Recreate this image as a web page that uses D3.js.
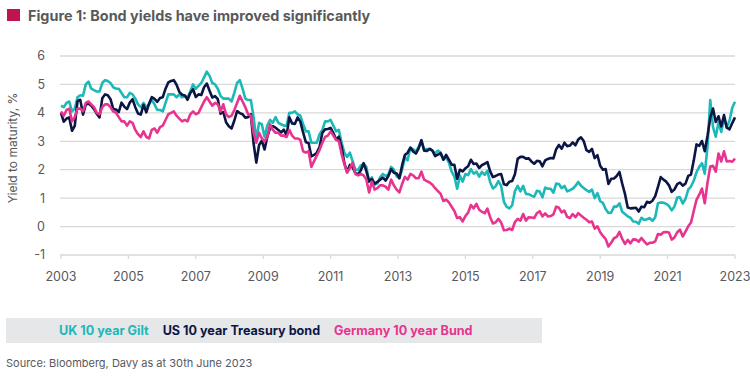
<!DOCTYPE html>
<html><head><meta charset="utf-8">
<script src="https://cdn.jsdelivr.net/npm/d3@7"></script>
<style>
html,body{margin:0;padding:0;background:#fff;}
svg{display:block;font-family:Inter,"Noto Sans",sans-serif;}
</style></head>
<body>
<svg id="chart" width="750" height="376"></svg>
<script>
// Monthly observations, Jan 2003 - Jun 2023
const yearLabels = ["2003","2005","2007","2009","2011","2013","2015","2017","2019","2021","2023"];
const yTicks = [-1,0,1,2,3,4,5,6];
const seriesNames = ["UK 10 year Gilt","US 10 year Treasury bond","Germany 10 year Bund"];

const ukGilt = [
4.25,4.20,4.35,4.40,4.05,4.15,4.55,4.62,4.60,5.00,5.10,4.85,
4.80,4.75,4.75,5.05,5.15,5.12,5.05,4.90,4.85,4.85,4.70,4.55,
4.55,4.70,4.65,4.50,4.30,4.20,4.35,4.20,4.30,4.45,4.30,4.10,
4.10,4.05,4.35,4.65,4.65,4.65,4.55,4.65,4.55,4.60,4.55,4.75,
5.00,4.85,4.95,5.05,5.25,5.45,5.30,5.05,5.00,4.85,4.60,4.50,
4.50,4.50,4.40,4.70,5.05,5.15,4.85,4.50,4.45,4.45,3.85,3.05,
3.65,3.60,3.15,3.55,3.75,3.65,3.85,3.65,3.60,3.55,3.55,4.00,
4.00,4.05,3.95,3.90,3.60,3.35,3.35,2.95,2.95,2.95,3.25,3.40,
3.70,3.70,3.75,3.55,3.35,3.40,2.95,2.60,2.45,2.60,2.30,2.00,
2.00,2.15,2.20,2.10,1.57,1.73,1.47,1.52,1.73,1.85,1.78,1.83,
2.10,2.00,1.77,1.70,2.00,2.44,2.33,2.77,2.72,2.65,2.80,3.02,
2.71,2.73,2.74,2.67,2.57,2.67,2.60,2.37,2.43,2.25,1.93,1.76,
1.33,1.80,1.58,1.85,1.81,2.02,1.86,1.93,1.76,1.92,1.82,1.96,
1.56,1.34,1.42,1.60,1.43,0.87,0.69,0.64,0.75,1.25,1.43,1.24,
1.43,1.15,1.14,1.09,1.05,1.26,1.23,1.03,1.37,1.33,1.33,1.19,
1.51,1.50,1.35,1.43,1.24,1.28,1.33,1.43,1.57,1.44,1.36,1.28,
1.22,1.30,1.00,1.18,0.89,0.83,0.61,0.48,0.49,0.70,0.70,0.82,
0.52,0.44,0.36,0.31,0.18,0.17,0.10,0.31,0.23,0.26,0.30,0.20,
0.33,0.82,0.85,0.84,0.80,0.72,0.57,0.71,1.02,1.03,0.81,0.97,
1.30,1.41,1.61,1.91,2.10,2.23,1.86,2.80,4.45,3.51,3.16,3.67,
3.33,3.83,3.49,3.72,4.18,4.39];

const usTreasury = [
3.99,3.69,3.80,3.84,3.37,3.54,4.41,4.46,3.94,4.29,4.33,4.25,
4.13,3.97,3.84,4.51,4.65,4.62,4.48,4.13,4.12,4.03,4.36,4.22,
4.13,4.36,4.48,4.20,3.98,3.94,4.28,4.02,4.32,4.55,4.49,4.39,
4.52,4.55,4.85,5.07,5.12,5.15,4.99,4.74,4.64,4.61,4.46,4.70,
4.83,4.56,4.65,4.63,4.90,5.03,4.78,4.54,4.59,4.48,3.97,4.03,
3.67,3.53,3.45,3.73,4.06,3.99,3.95,3.83,3.85,3.95,2.93,2.25,
2.87,3.02,2.71,3.16,3.47,3.53,3.48,3.40,3.31,3.41,3.20,3.84,
3.63,3.61,3.84,3.69,3.31,2.97,2.94,2.47,2.52,2.60,2.81,3.30,
3.42,3.43,3.47,3.29,3.06,3.16,2.80,2.23,1.92,2.17,2.08,1.89,
1.83,1.98,2.23,1.95,1.59,1.67,1.51,1.57,1.65,1.72,1.62,1.78,
2.02,1.89,1.87,1.70,2.16,2.52,2.60,2.78,2.64,2.57,2.75,3.04,
2.67,2.66,2.73,2.67,2.48,2.53,2.58,2.35,2.52,2.35,2.18,2.17,
1.68,2.00,1.94,2.05,2.12,2.35,2.20,2.22,2.06,2.16,2.21,2.27,
1.94,1.74,1.78,1.83,1.85,1.49,1.46,1.58,1.60,1.84,2.38,2.45,
2.45,2.39,2.40,2.29,2.21,2.31,2.30,2.12,2.33,2.38,2.41,2.40,
2.72,2.87,2.74,2.95,2.83,2.85,2.96,2.86,3.06,3.14,3.01,2.69,
2.63,2.73,2.41,2.51,2.14,2.00,2.02,1.50,1.68,1.69,1.78,1.92,
1.51,1.15,0.67,0.64,0.65,0.66,0.53,0.70,0.68,0.87,0.84,0.91,
1.07,1.40,1.74,1.65,1.58,1.45,1.22,1.31,1.49,1.55,1.44,1.51,
1.78,1.83,2.32,2.89,2.84,3.01,2.65,3.19,3.83,4.15,3.68,3.88,
3.52,3.92,3.48,3.42,3.64,3.84];

const germanBund = [
4.05,3.90,4.10,4.15,3.70,3.85,4.15,4.15,4.05,4.35,4.40,4.30,
4.20,4.00,3.95,4.20,4.30,4.30,4.20,4.05,4.00,3.85,3.70,3.70,
3.55,3.70,3.65,3.40,3.25,3.15,3.35,3.15,3.10,3.40,3.45,3.30,
3.50,3.55,3.75,3.95,4.00,4.05,3.90,3.80,3.70,3.75,3.70,3.95,
4.05,3.95,4.00,4.20,4.40,4.55,4.40,4.25,4.35,4.30,4.05,4.30,
3.95,3.85,3.90,4.10,4.35,4.60,4.40,4.20,3.95,3.90,3.30,2.95,
3.30,3.10,3.00,3.15,3.60,3.40,3.30,3.30,3.20,3.20,3.15,3.40,
3.20,3.10,3.10,3.05,2.65,2.60,2.65,2.10,2.30,2.50,2.70,2.95,
3.15,3.20,3.35,3.20,3.05,3.00,2.55,2.20,1.90,2.05,2.25,1.85,
1.80,1.85,1.80,1.65,1.20,1.58,1.30,1.35,1.45,1.45,1.40,1.30,
1.65,1.45,1.30,1.20,1.50,1.75,1.65,1.85,1.80,1.70,1.70,1.93,
1.65,1.60,1.55,1.47,1.35,1.25,1.15,0.90,0.95,0.85,0.70,0.55,
0.30,0.33,0.18,0.37,0.49,0.76,0.64,0.80,0.59,0.52,0.47,0.63,
0.33,0.11,0.15,0.27,0.14,-0.13,-0.12,-0.07,-0.12,0.16,0.27,0.21,
0.44,0.21,0.33,0.32,0.30,0.47,0.54,0.36,0.46,0.36,0.37,0.43,
0.70,0.66,0.50,0.56,0.34,0.30,0.44,0.33,0.47,0.39,0.31,0.24,
0.15,0.18,-0.07,0.01,-0.20,-0.33,-0.44,-0.70,-0.57,-0.41,-0.36,-0.19,
-0.43,-0.61,-0.47,-0.59,-0.45,-0.46,-0.53,-0.40,-0.52,-0.63,-0.57,-0.57,
-0.52,-0.26,-0.29,-0.20,-0.19,-0.21,-0.46,-0.38,-0.20,-0.11,-0.35,-0.18,
0.01,0.14,0.55,0.94,1.12,1.34,0.82,1.54,2.11,2.14,1.93,2.57,
2.29,2.65,2.29,2.31,2.28,2.39];

const colors = ["#1db8b8","#0c1644","#e8348f"];
const seriesData = [ukGilt, usTreasury, germanBund];

const svg = d3.select("#chart");
const N = ukGilt.length;
const x = d3.scaleLinear().domain([0, N - 1]).range([61, 735]);
const y = d3.scaleLinear().domain([-1, 6]).range([255, 56]);

// Title
svg.append("rect").attr("x",7).attr("y",9).attr("width",13).attr("height",12).attr("fill","#c0134f");
svg.append("text").attr("x",28).attr("y",20.5).attr("font-size",14.4).attr("font-weight",700)
  .attr("fill","#58595b").text("Figure 1: Bond yields have improved significantly");

// Gridlines
svg.append("g").selectAll("line").data(yTicks).join("line")
  .attr("x1",60).attr("x2",735).attr("y1",d=>y(d)).attr("y2",d=>y(d))
  .attr("stroke","#d9d9d9").attr("stroke-width",1.3);

// Y axis labels
svg.append("g").selectAll("text").data(yTicks).join("text")
  .attr("x",45).attr("y",d=>y(d)).attr("dy","0.35em").attr("text-anchor","end")
  .attr("font-size",12.5).attr("fill","#58595b").text(d=>d);

svg.append("text").attr("transform","translate(17,148) rotate(-90)").attr("text-anchor","middle")
  .attr("font-size",12).attr("fill","#58595b").text("Yield to maturity, %");

// X axis ticks and labels
const xTickPos = yearLabels.map((l,k)=> k*(N-1)/(yearLabels.length-1));
svg.append("g").selectAll("line").data(xTickPos).join("line")
  .attr("x1",d=>x(d)).attr("x2",d=>x(d)).attr("y1",y(-1)).attr("y2",y(-1)+4)
  .attr("stroke","#d9d9d9").attr("stroke-width",1.3);
svg.append("g").selectAll("text").data(xTickPos).join("text")
  .attr("x",d=>x(d)).attr("y",280.5).attr("text-anchor","middle")
  .attr("font-size",12.5).attr("fill","#58595b").text((d,i)=>yearLabels[i]);

// Lines
const line = d3.line().x((d,i)=>x(i)).y(d=>y(d)).curve(d3.curveLinear);
svg.append("g").selectAll("path").data(seriesData).join("path")
  .attr("d",d=>line(d)).attr("fill","none")
  .attr("stroke",(d,i)=>colors[i]).attr("stroke-width",2.6)
  .attr("stroke-linejoin","round");

// Legend
svg.append("rect").attr("x",6).attr("y",318).attr("width",536).attr("height",25).attr("fill","#e6e7e9");
const lg = svg.append("g");
let lx = 59;
seriesNames.forEach((n,i)=>{
  const t = lg.append("text").attr("x",lx).attr("y",335).attr("font-size",12.6).attr("font-weight",700)
    .attr("fill",colors[i]).text(n);
  lx += t.node().getComputedTextLength() + 14;
});

// Source
svg.append("text").attr("x",6).attr("y",367).attr("font-size",11).attr("fill","#58595b")
  .text("Source: Bloomberg, Davy as at 30th June 2023");
</script>
</body></html>
